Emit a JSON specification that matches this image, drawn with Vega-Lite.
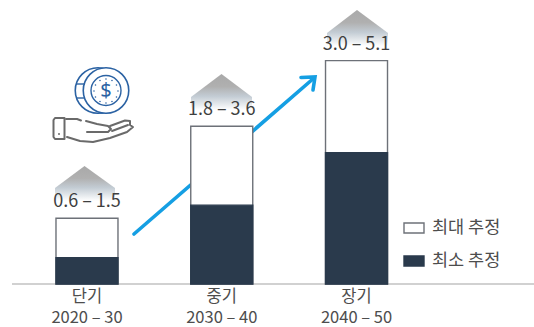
{
  "$schema": "https://vega.github.io/schema/vega-lite/v6.json",
  "width": 534,
  "height": 284,
  "autosize": "none",
  "padding": {"left": 0, "top": 0, "right": 0, "bottom": 43},
  "background": "white",
  "config": {"view": {"stroke": null}, "font": "Noto Sans CJK KR"},
  "datasets": {
    "bars": [
      {"period": "단기|2020 – 30", "series": "최대 추정", "value": 1.5},
      {"period": "단기|2020 – 30", "series": "최소 추정", "value": 0.6},
      {"period": "중기|2030 – 40", "series": "최대 추정", "value": 3.6},
      {"period": "중기|2030 – 40", "series": "최소 추정", "value": 1.8},
      {"period": "장기|2040 – 50", "series": "최대 추정", "value": 5.1},
      {"period": "장기|2040 – 50", "series": "최소 추정", "value": 3.0}
    ],
    "ranges": [
      {"period": "단기|2020 – 30", "max": 1.5, "label": "0.6 – 1.5"},
      {"period": "중기|2030 – 40", "max": 3.6, "label": "1.8 – 3.6"},
      {"period": "장기|2040 – 50", "max": 5.1, "label": "3.0 – 5.1"}
    ],
    "roofs": [
      {"id": "a", "h": 55, "top": 188, "bottom": 201},
      {"id": "a", "h": 84.5, "top": 166, "bottom": 201},
      {"id": "a", "h": 115, "top": 188, "bottom": 201},
      {"id": "b", "h": 191, "top": 97, "bottom": 110},
      {"id": "b", "h": 221.5, "top": 74, "bottom": 110},
      {"id": "b", "h": 252, "top": 97, "bottom": 110},
      {"id": "c", "h": 327, "top": 33, "bottom": 46},
      {"id": "c", "h": 357, "top": 10, "bottom": 46},
      {"id": "c", "h": 388, "top": 33, "bottom": 46}
    ],
    "baseline": [
      {"h": 12, "v": 284},
      {"h": 534, "v": 284}
    ],
    "arrow": [
      {"part": "shaft", "n": 0, "h": 134, "v": 234},
      {"part": "shaft", "n": 1, "h": 314, "v": 78},
      {"part": "head", "n": 0, "h": 301, "v": 77.5},
      {"part": "head", "n": 1, "h": 315, "v": 77},
      {"part": "head", "n": 2, "h": 313, "v": 90}
    ],
    "coinBack": [{"h": 98, "v": 90.5}],
    "coinFront": [{"h": 106, "v": 90.5}],
    "coinRim": [
      {"part": "t1", "n": 0, "h": 76, "v": 84},
      {"part": "t1", "n": 1, "h": 85, "v": 84},
      {"part": "t2", "n": 0, "h": 76, "v": 98},
      {"part": "t2", "n": 1, "h": 85, "v": 98}
    ],
    "coinDots": [
      {"h": 106, "v": 79}, {"h": 112, "v": 80.5}, {"h": 116.5, "v": 85}, {"h": 118, "v": 91},
      {"h": 116.5, "v": 97}, {"h": 112, "v": 101.5}, {"h": 106, "v": 103}, {"h": 100, "v": 101.5},
      {"h": 95.5, "v": 97}, {"h": 94, "v": 91}, {"h": 95.5, "v": 85}, {"h": 100, "v": 80.5}
    ],
    "dollar": [{"h": 106, "v": 91, "t": "$"}],
    "hand": [
      {"part": "cuff", "n": 0, "h": 64.5, "v": 118},
      {"part": "cuff", "n": 1, "h": 55, "v": 118},
      {"part": "cuff", "n": 2, "h": 53.5, "v": 120},
      {"part": "cuff", "n": 3, "h": 53.5, "v": 137},
      {"part": "cuff", "n": 4, "h": 55, "v": 139},
      {"part": "cuff", "n": 5, "h": 64.5, "v": 139},
      {"part": "cuff", "n": 6, "h": 64.5, "v": 118},
      {"part": "wrist", "n": 0, "h": 66, "v": 119},
      {"part": "wrist", "n": 1, "h": 77, "v": 119},
      {"part": "wrist", "n": 2, "h": 81, "v": 120.5},
      {"part": "palm", "n": 0, "h": 86, "v": 121},
      {"part": "palm", "n": 1, "h": 97, "v": 124},
      {"part": "palm", "n": 2, "h": 108, "v": 126},
      {"part": "palm", "n": 3, "h": 111, "v": 129},
      {"part": "palm", "n": 4, "h": 108, "v": 132},
      {"part": "palm", "n": 5, "h": 87, "v": 132},
      {"part": "fingers", "n": 0, "h": 110, "v": 126},
      {"part": "fingers", "n": 1, "h": 125, "v": 120.5},
      {"part": "fingers", "n": 2, "h": 130, "v": 121},
      {"part": "fingers", "n": 3, "h": 130, "v": 125},
      {"part": "fingers", "n": 4, "h": 133, "v": 127},
      {"part": "fingers", "n": 5, "h": 127, "v": 132},
      {"part": "fingers", "n": 6, "h": 110, "v": 138},
      {"part": "fingers", "n": 7, "h": 93, "v": 142},
      {"part": "fingers", "n": 8, "h": 80, "v": 141},
      {"part": "fingers", "n": 9, "h": 67, "v": 137},
      {"part": "thumb", "n": 0, "h": 112, "v": 131},
      {"part": "thumb", "n": 1, "h": 128, "v": 125}
    ],
    "cuffDot": [{"h": 59, "v": 134}]
  },
  "layer": [
    {
      "encoding": {
        "x": {"field": "h", "type": "quantitative", "axis": null, "scale": {"domain": [0, 534], "nice": false, "zero": false}},
        "y": {"field": "v", "type": "quantitative", "axis": null, "scale": {"domain": [0, 284], "reverse": true, "nice": false, "zero": false}}
      },
      "layer": [
        {
          "data": {"name": "roofs"},
          "mark": {
            "type": "area",
            "fill": {
              "gradient": "linear", "x1": 0, "y1": 0, "x2": 0, "y2": 1,
              "stops": [
                {"offset": 0, "color": "#a9a9a9"},
                {"offset": 0.35, "color": "#b0b0b0"},
                {"offset": 0.62, "color": "#c3ccd4"},
                {"offset": 1, "color": "#ffffff"}
              ]
            }
          },
          "encoding": {
            "y": {"field": "top", "type": "quantitative", "axis": null, "scale": {"domain": [0, 284], "reverse": true, "nice": false, "zero": false}},
            "y2": {"field": "bottom"},
            "detail": {"field": "id"}
          }
        },
        {
          "data": {"name": "arrow"},
          "mark": {"type": "line", "color": "#159fe3", "strokeWidth": 3.6, "strokeCap": "round", "strokeJoin": "miter"},
          "encoding": {"detail": {"field": "part"}, "order": {"field": "n"}}
        },
        {
          "data": {"name": "coinBack"},
          "mark": {"type": "point", "shape": "circle", "filled": true, "fill": "white", "fillOpacity": 1, "stroke": "#2b62a3", "strokeWidth": 1.6, "opacity": 1, "size": 2070}
        },
        {
          "data": {"name": "coinFront"},
          "mark": {"type": "point", "shape": "circle", "filled": true, "fill": "white", "fillOpacity": 1, "stroke": "#2b62a3", "strokeWidth": 1.6, "opacity": 1, "size": 2070}
        },
        {
          "data": {"name": "coinFront"},
          "mark": {"type": "point", "shape": "circle", "filled": true, "fill": "white", "fillOpacity": 1, "stroke": "#2b62a3", "strokeWidth": 1.4, "opacity": 1, "size": 900}
        },
        {
          "data": {"name": "coinRim"},
          "mark": {"type": "line", "color": "#2b62a3", "strokeWidth": 1.4},
          "encoding": {"detail": {"field": "part"}, "order": {"field": "n"}}
        },
        {
          "data": {"name": "coinDots"},
          "mark": {"type": "point", "shape": "circle", "filled": true, "color": "#2b62a3", "size": 2.5, "opacity": 1}
        },
        {
          "data": {"name": "dollar"},
          "mark": {"type": "text", "color": "#2b62a3", "fontSize": 20, "align": "center", "baseline": "middle", "font": "Noto Sans"},
          "encoding": {"text": {"field": "t"}}
        },
        {
          "data": {"name": "hand"},
          "mark": {"type": "line", "color": "#6a6a6a", "strokeWidth": 2, "strokeCap": "round", "strokeJoin": "round"},
          "encoding": {"detail": {"field": "part"}, "order": {"field": "n"}}
        },
        {
          "data": {"name": "cuffDot"},
          "mark": {"type": "point", "shape": "circle", "filled": true, "color": "#6a6a6a", "size": 4, "opacity": 1}
        },
        {
          "data": {"name": "baseline"},
          "mark": {"type": "line", "color": "#a3a3a3", "strokeWidth": 1.2}
        }
      ]
    },
    {
      "encoding": {
        "x": {
          "field": "period",
          "type": "nominal",
          "sort": null,
          "title": null,
          "scale": {"range": [19.6, 423.9], "paddingInner": 0.54, "paddingOuter": 0.27},
          "axis": {
            "domain": false,
            "ticks": false,
            "labelAngle": 0,
            "labelFontSize": 16.5,
            "labelColor": "#4d4d4d",
            "labelFont": "Noto Sans CJK KR",
            "labelPadding": 4,
            "labelLineHeight": 21,
            "labelExpr": "split(datum.label, '|')"
          }
        },
        "y": {"type": "quantitative", "axis": null, "scale": {"domain": [0, 6.484], "nice": false, "zero": true}}
      },
      "layer": [
        {
          "data": {"name": "bars"},
          "mark": {"type": "bar", "strokeWidth": 1.4},
          "encoding": {
            "y": {"field": "value", "type": "quantitative", "stack": null, "axis": null, "scale": {"domain": [0, 6.484], "nice": false}},
            "fill": {
              "field": "series",
              "type": "nominal",
              "scale": {"domain": ["최대 추정", "최소 추정"], "range": ["#ffffff", "#2a3a4c"]},
              "legend": {
                "title": null,
                "orient": "none",
                "legendX": 403,
                "legendY": 217,
                "labelFontSize": 17.5,
                "labelColor": "#4d4d4d",
                "labelFont": "Noto Sans CJK KR",
                "symbolType": "M-1,-0.5H1V0.5H-1Z",
                "symbolSize": 400,
                "symbolStrokeWidth": 1.4,
                "rowPadding": 13,
                "labelOffset": 7,
                "labelLimit": 120
              }
            },
            "stroke": {
              "field": "series",
              "type": "nominal",
              "scale": {"domain": ["최대 추정", "최소 추정"], "range": ["#6d7178", "#2a3a4c"]}
            }
          }
        },
        {
          "data": {"name": "ranges"},
          "mark": {"type": "text", "fontSize": 18, "color": "#3f3f3f", "baseline": "middle", "dy": -16, "font": "Noto Sans CJK KR"},
          "encoding": {
            "y": {"field": "max", "type": "quantitative", "axis": null, "scale": {"domain": [0, 6.484], "nice": false}},
            "text": {"field": "label"}
          }
        }
      ]
    }
  ],
  "resolve": {"scale": {"x": "independent", "y": "independent"}}
}
